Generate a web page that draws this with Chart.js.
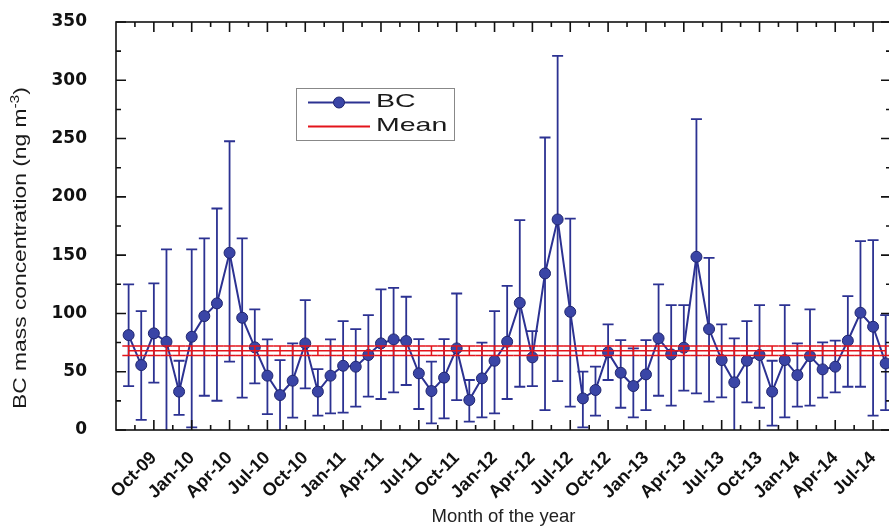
<!DOCTYPE html>
<html>
<head>
<meta charset="utf-8">
<title>BC mass concentration</title>
<script src="https://cdn.jsdelivr.net/npm/chart.js@4.4.1/dist/chart.umd.min.js"></script>
<style>
  html, body { margin: 0; padding: 0; background: #fff; overflow: hidden; }
  #wrap { width: 889px; height: 526px; overflow: hidden; }
</style>
</head>
<body>
<div id="wrap"><canvas id="bcChart" width="900" height="526"></canvas></div>
<script>
// Monthly BC data, Aug-09 .. Aug-14
const months = [
  'Aug-09','Sep-09','Oct-09','Nov-09','Dec-09','Jan-10','Feb-10','Mar-10','Apr-10','May-10','Jun-10','Jul-10',
  'Aug-10','Sep-10','Oct-10','Nov-10','Dec-10','Jan-11','Feb-11','Mar-11','Apr-11','May-11','Jun-11','Jul-11',
  'Aug-11','Sep-11','Oct-11','Nov-11','Dec-11','Jan-12','Feb-12','Mar-12','Apr-12','May-12','Jun-12','Jul-12',
  'Aug-12','Sep-12','Oct-12','Nov-12','Dec-12','Jan-13','Feb-13','Mar-13','Apr-13','May-13','Jun-13','Jul-13',
  'Aug-13','Sep-13','Oct-13','Nov-13','Dec-13','Jan-14','Feb-14','Mar-14','Apr-14','May-14','Jun-14','Jul-14',
  'Aug-14'
];
const bcValues = [
  81.4, 55.7, 82.9, 75.7, 32.9, 80.0, 97.7, 108.6, 152.0, 96.3, 70.9, 46.6,
  30.0, 42.3, 74.3, 32.9, 46.6, 55.1, 54.3, 64.3, 74.3, 77.7, 76.3, 48.6,
  33.4, 44.9, 70.0, 25.7, 44.3, 59.4, 75.7, 109.1, 62.3, 134.3, 180.6, 101.4,
  27.1, 34.3, 66.6, 49.1, 37.7, 47.7, 78.6, 64.9, 70.6, 148.6, 86.6, 60.0,
  40.9, 59.4, 64.3, 32.9, 60.0, 47.1, 63.4, 52.0, 54.3, 76.6, 100.6, 88.6,
  57.1
];
const bcHigh = [
  124.9, 102.0, 125.7, 154.9, 59.4, 154.9, 164.3, 190.0, 247.7, 164.3, 103.4, 77.7,
  60.0, 74.3, 111.4, 52.3, 77.7, 93.4, 86.6, 98.6, 120.6, 122.0, 114.3, 78.0,
  58.6, 78.0, 117.1, 42.9, 74.9, 102.0, 123.7, 180.0, 84.9, 250.9, 320.9, 181.4,
  50.0, 54.3, 90.6, 77.1, 70.0, 77.1, 124.9, 107.1, 107.1, 266.6, 147.7, 90.6,
  78.6, 93.4, 107.1, 59.4, 107.1, 74.3, 103.4, 75.1, 76.6, 114.9, 162.0, 162.9,
  98.6
];
const bcLow = [
  37.7, 8.6, 40.6, -5.0, 12.9, 2.3, 29.4, 25.1, 58.6, 27.7, 40.0, 13.7,
  -4.0, 10.6, 35.7, 12.3, 14.3, 14.9, 20.0, 28.6, 26.6, 32.3, 38.6, 18.0,
  5.7, 10.0, 25.7, 7.1, 10.9, 14.3, 26.6, 37.1, 37.7, 17.1, 42.0, 20.0,
  2.3, 12.3, 42.9, 19.1, 10.9, 17.1, 29.4, 20.9, 33.7, 31.4, 24.3, 28.0,
  -2.0, 23.7, 19.1, 3.7, 10.9, 20.0, 20.9, 27.7, 32.3, 37.1, 37.1, 12.3,
  17.1
];
const meanValue = 68;
const meanError = 4;
const tickMonths = ['Oct-09','Jan-10','Apr-10','Jul-10','Oct-10','Jan-11','Apr-11','Jul-11','Oct-11','Jan-12',
  'Apr-12','Jul-12','Oct-12','Jan-13','Apr-13','Jul-13','Oct-13','Jan-14','Apr-14','Jul-14'];
const yTicks = [0, 50, 100, 150, 200, 250, 300, 350];
const yMinorTicks = [25, 75, 125, 175, 225, 275, 325];

const BLUE = '#2c3292';
const RED = '#e3141b';

// error bars, drawn under each dataset
const errorBars = {
  id: 'errorBars',
  beforeDatasetDraw(chart, args) {
    const ds = chart.data.datasets[args.index];
    if (!ds.errHigh) return;
    const { ctx, chartArea: a, scales: { x, y } } = chart;
    const step = x.getPixelForValue(1) - x.getPixelForValue(0);
    const half = ds.capFull ? step / 2 : ds.capHalf;
    ctx.save();
    ctx.beginPath();
    ctx.rect(a.left, a.top, a.right - a.left, a.bottom - a.top);
    ctx.clip();
    ctx.strokeStyle = ds.errColor;
    ctx.lineWidth = ds.errWidth;
    args.meta.data.forEach((pt, i) => {
      const yh = y.getPixelForValue(ds.errHigh[i]);
      const yl = y.getPixelForValue(ds.errLow[i]);
      ctx.beginPath();
      ctx.moveTo(pt.x, yh); ctx.lineTo(pt.x, yl);
      ctx.moveTo(pt.x - half, yh); ctx.lineTo(pt.x + half, yh);
      ctx.moveTo(pt.x - half, yl); ctx.lineTo(pt.x + half, yl);
      ctx.stroke();
    });
    ctx.restore();
  }
};

// box frame with inward ticks on all four sides
const frameTicks = {
  id: 'frameTicks',
  afterDatasetsDraw(chart) {
    const { ctx, chartArea: a, scales: { x, y } } = chart;
    const major = tickMonths.map(m => months.indexOf(m));
    const minor = major.map(v => v - 1.5).concat([major[major.length - 1] + 1.5]);
    ctx.save();
    ctx.strokeStyle = '#111';
    ctx.lineWidth = 1.6;
    ctx.strokeRect(a.left, a.top, a.right - a.left, a.bottom - a.top);
    ctx.beginPath();
    const xt = (v, len) => {
      const px = x.getPixelForValue(v);
      if (px < a.left || px > a.right) return;
      ctx.moveTo(px, a.bottom); ctx.lineTo(px, a.bottom - len);
      ctx.moveTo(px, a.top); ctx.lineTo(px, a.top + len);
    };
    const yt = (v, len) => {
      const py = y.getPixelForValue(v);
      ctx.moveTo(a.left, py); ctx.lineTo(a.left + len, py);
      ctx.moveTo(a.right, py); ctx.lineTo(a.right - len, py);
    };
    major.forEach(v => xt(v, 10));
    minor.forEach(v => xt(v, 5));
    yTicks.forEach(v => yt(v, 10));
    yMinorTicks.forEach(v => yt(v, 5));
    ctx.stroke();
    ctx.restore();
  }
};

// legend box and rotated y title
const annotations = {
  id: 'annotations',
  afterDraw(chart) {
    const { ctx } = chart;
    ctx.save();
    // legend
    ctx.fillStyle = '#fff';
    ctx.fillRect(296, 88, 158, 52);
    ctx.strokeStyle = '#888';
    ctx.lineWidth = 1;
    ctx.strokeRect(296.5, 88.5, 158, 52);
    ctx.strokeStyle = BLUE;
    ctx.lineWidth = 2;
    ctx.beginPath(); ctx.moveTo(308, 102.5); ctx.lineTo(370, 102.5); ctx.stroke();
    ctx.fillStyle = '#3a45a6';
    ctx.strokeStyle = '#20266f';
    ctx.lineWidth = 1;
    ctx.beginPath(); ctx.arc(339, 102.5, 5.5, 0, Math.PI * 2); ctx.fill(); ctx.stroke();
    ctx.strokeStyle = RED;
    ctx.lineWidth = 2;
    ctx.beginPath(); ctx.moveTo(308, 126.5); ctx.lineTo(370, 126.5); ctx.stroke();
    ctx.fillStyle = '#1a1a1a';
    ctx.font = '19px "Liberation Sans", Arial, sans-serif';
    ctx.textBaseline = 'middle';
    [['BC', 102], ['Mean', 126]].forEach(([t, ty]) => {
      ctx.save();
      ctx.translate(376, ty);
      ctx.scale(1.5, 1);
      ctx.fillText(t, 0, 0);
      ctx.restore();
    });
    // y title
    ctx.translate(21, 248);
    ctx.rotate(-Math.PI / 2);
    ctx.scale(1.2, 1);
    const main = 'BC mass concentration (ng m';
    const sup = '-3';
    const end = ')';
    ctx.font = '19px "Liberation Sans", Arial, sans-serif';
    const wMain = ctx.measureText(main).width;
    const wEnd = ctx.measureText(end).width;
    ctx.font = '13px "Liberation Sans", Arial, sans-serif';
    const wSup = ctx.measureText(sup).width;
    let tx = -(wMain + wSup + wEnd) / 2;
    ctx.font = '19px "Liberation Sans", Arial, sans-serif';
    ctx.fillText(main, tx, 0);
    tx += wMain;
    ctx.font = '13px "Liberation Sans", Arial, sans-serif';
    ctx.fillText(sup, tx, -6);
    tx += wSup;
    ctx.font = '19px "Liberation Sans", Arial, sans-serif';
    ctx.fillText(end, tx, 0);
    ctx.restore();
  }
};

new Chart(document.getElementById('bcChart'), {
  type: 'line',
  data: {
    datasets: [
      {
        label: 'BC',
        data: bcValues.map((v, i) => ({ x: i, y: v })),
        borderColor: BLUE,
        borderWidth: 2,
        pointRadius: 5.5,
        pointBackgroundColor: '#3a45a6',
        pointBorderColor: '#20266f',
        pointBorderWidth: 1,
        tension: 0,
        order: 1,
        errHigh: bcHigh,
        errLow: bcLow,
        errColor: BLUE,
        errWidth: 1.8,
        capHalf: 5.5
      },
      {
        label: 'Mean',
        data: months.map((m, i) => ({ x: i, y: meanValue })),
        borderColor: RED,
        borderWidth: 1.5,
        pointRadius: 0,
        order: 0,
        errHigh: months.map(() => meanValue + meanError),
        errLow: months.map(() => meanValue - meanError),
        errColor: RED,
        errWidth: 1.5,
        capFull: true
      }
    ]
  },
  options: {
    responsive: false,
    animation: false,
    devicePixelRatio: 1,
    layout: { padding: { top: 22, right: 9, left: 0, bottom: 0 } },
    plugins: { legend: { display: false }, tooltip: { enabled: false } },
    scales: {
      x: {
        type: 'linear',
        min: -1,
        max: 60.42,
        grid: { display: false },
        border: { display: false },
        afterBuildTicks: axis => { axis.ticks = tickMonths.map(m => ({ value: months.indexOf(m) })); },
        afterFit: scale => {
          scale.height = 96;
          scale.paddingLeft = 0;
          scale.paddingRight = 0;
        },
        ticks: {
          autoSkip: false,
          minRotation: 45,
          maxRotation: 45,
          padding: 9.5,
          color: '#111',
          font: { family: '"Liberation Sans", Arial, sans-serif', size: 18, weight: 'bold' },
          callback: v => months[v]
        },
        title: {
          display: true,
          text: 'Month of the year',
          color: '#222',
          padding: { top: 0, bottom: 0 },
          font: { family: '"Liberation Sans", Arial, sans-serif', size: 18.5, lineHeight: 1 }
        }
      },
      y: {
        min: 0,
        max: 350,
        grid: { display: false },
        border: { display: false },
        afterBuildTicks: axis => { axis.ticks = yTicks.map(v => ({ value: v })); },
        afterFit: scale => {
          scale.width = 116;
          scale.paddingTop = 0;
          scale.paddingBottom = 0;
        },
        ticks: {
          padding: 21,
          color: '#111',
          font: { family: '"DejaVu Sans", sans-serif', size: 17, weight: 'bold' }
        }
      }
    }
  },
  plugins: [errorBars, frameTicks, annotations]
});
</script>
</body>
</html>
